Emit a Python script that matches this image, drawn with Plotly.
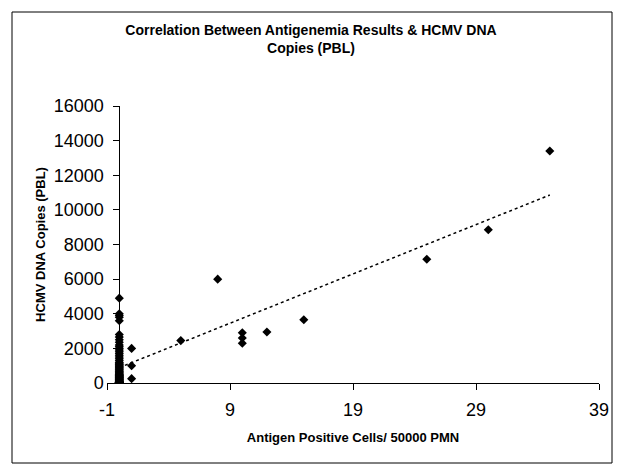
import numpy as np
import plotly.graph_objects as go

# ---- data ----
# HCMV DNA copies for samples with 0 antigen positive cells
dna_at_zero_antigen = [
    0, 0, 0, 0, 0, 0, 0, 0, 0, 0, 0, 0, 0, 0, 10, 20, 30, 40, 50, 60,
    80, 100, 120, 150, 180, 200, 220, 250, 280, 300, 320, 350, 380, 400,
    420, 450, 480, 500, 550, 600, 650, 700, 750, 800, 850, 900, 950, 1000,
    1050, 1100, 1150, 1200, 1300, 1400, 1500, 1600, 1700, 1800, 1900, 2000,
    2100, 2200, 2350, 2500, 2650, 2800, 3600, 3800, 3900, 4000, 4900,
]
# samples with antigen positive cells > 0
antigen_cells = [1, 1, 1, 5, 8, 10, 10, 10, 12, 15, 25, 30, 35]
dna_copies = [2000, 1000, 250, 2450, 6000, 2900, 2600, 2300, 2950, 3650, 7150, 8850, 13400]

x_ticks = [-1, 9, 19, 29, 39]
y_ticks = [0, 2000, 4000, 6000, 8000, 10000, 12000, 14000, 16000]

x_all = np.array([0] * len(dna_at_zero_antigen) + antigen_cells, dtype=float)
y_all = np.array(dna_at_zero_antigen + dna_copies, dtype=float)

# linear trendline (least squares), drawn over the data range
slope, intercept = np.polyfit(x_all, y_all, 1)
trend_x = np.array([x_all.min(), x_all.max()])
trend_y = intercept + slope * trend_x

FONT = "Arial, Liberation Sans, sans-serif"

fig = go.Figure()
fig.add_trace(go.Scatter(
    x=trend_x, y=trend_y, mode="lines",
    line=dict(color="black", width=1.5, dash="dot"),
    hoverinfo="skip", showlegend=False,
))
fig.add_trace(go.Scatter(
    x=x_all, y=y_all, mode="markers",
    marker=dict(symbol="diamond", size=7, color="black"),
    showlegend=False,
))

# pixel layout (figure sits 8px in from the page's top-left corner)
OFF = 8
W, H = 622 - OFF, 470 - OFF
L, T = 107 - OFF, 106 - OFF
R = W - (599 - OFF)
B = H - (383 - OFF)
pw, ph = W - L - R, H - T - B

def px_to_paper_x(px):
    return (px - OFF - L) / pw

def px_to_paper_y(py):
    return (H - B - (py - OFF)) / ph

fig.update_layout(
    width=W, height=H,
    margin=dict(l=L, r=R, t=T, b=B, pad=0),
    paper_bgcolor="white", plot_bgcolor="white",
    font=dict(family=FONT, color="black"),
    title=dict(
        text="<b>Correlation Between Antigenemia Results & HCMV DNA<br>Copies (PBL)</b>",
        x=(311 - OFF) / W, xref="container", xanchor="center",
        y=1 - (35 - OFF) / H, yref="container", yanchor="middle",
        font=dict(size=14, family=FONT, color="black"),
    ),
    xaxis=dict(
        range=[-1, 39], tickvals=x_ticks, ticktext=[str(v) for v in x_ticks],
        showline=True, linecolor="black", linewidth=1,
        ticks="outside", ticklen=6, tickcolor="black",
        showgrid=False, zeroline=False,
        tickfont=dict(size=18, family=FONT),
        ticklabelstandoff=4,
        title=dict(text="<b>Antigen Positive Cells/ 50000 PMN</b>",
                   font=dict(size=13, family=FONT), standoff=14),
    ),
    yaxis=dict(
        range=[0, 16000], tickvals=y_ticks, ticktext=[str(v) for v in y_ticks],
        anchor="free", position=1 / 40,
        showline=True, linecolor="black", linewidth=1,
        ticks="outside", ticklen=6, tickcolor="black",
        showgrid=False, zeroline=False,
        tickfont=dict(size=18, family=FONT),
        ticklabelstandoff=6,
        title=dict(text="<b>HCMV DNA Copies (PBL)</b>",
                   font=dict(size=13, family=FONT), standoff=4),
    ),
    shapes=[dict(
        type="rect", xref="paper", yref="paper",
        x0=px_to_paper_x(12), x1=px_to_paper_x(612),
        y0=px_to_paper_y(463), y1=px_to_paper_y(12),
        line=dict(color="black", width=1), fillcolor="rgba(0,0,0,0)",
        layer="below",
    )],
)

fig.write_html("out.html")
